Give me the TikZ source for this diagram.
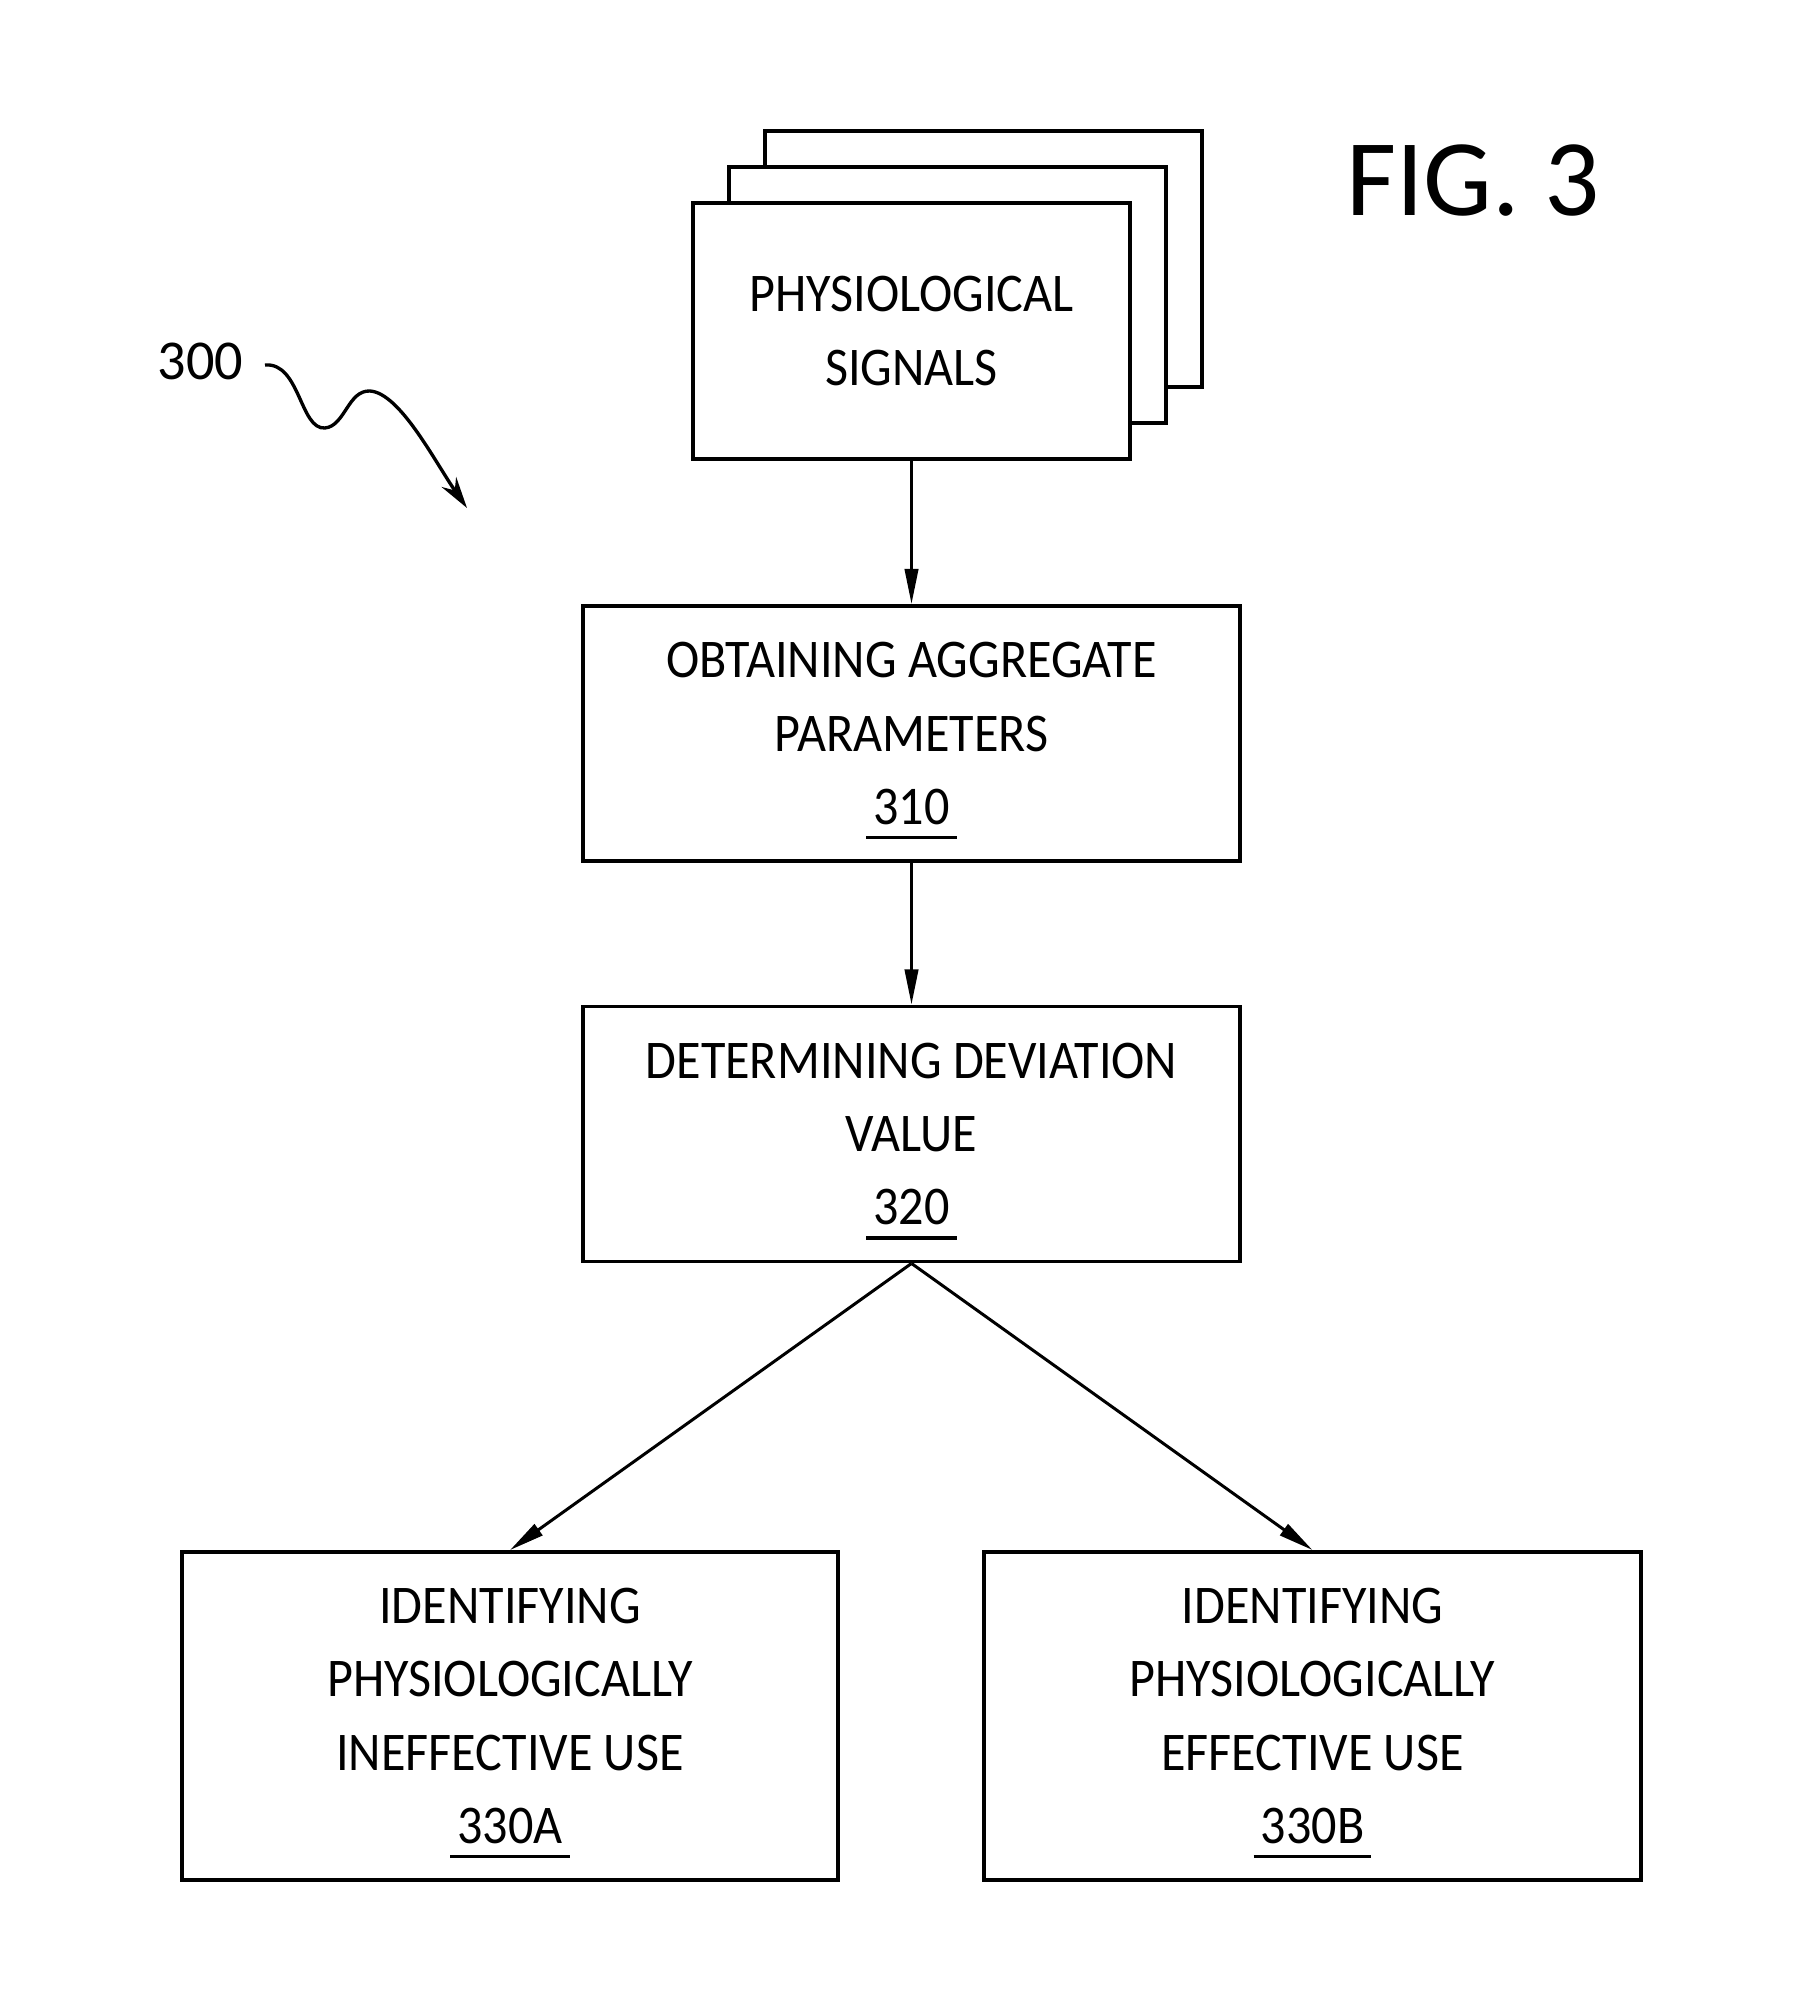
\documentclass[tikz,border=0pt]{standalone}
\usepackage{fontspec}
\setmainfont{Carlito}
\newfontfamily\bodyfont{Carlito}[FakeStretch=0.92]
\usetikzlibrary{arrows.meta}
\tikzset{
  stepbox/.style={draw, line width=1.05pt, fill=white, align=center,
    font=\bodyfont\fontsize{15.5}{20.8}\selectfont, inner sep=0pt},
  flow/.style={line width=0.85pt, -{Triangle[length=10pt,width=3.8pt]}},
}
\newcommand{\refnum}[1]{\setbox0\hbox{\hspace{2pt}#1\hspace{2pt}}\rlap{\smash{\rule[-4.3pt]{\wd0}{0.95pt}}}\box0}
\begin{document}
\begin{tikzpicture}[x=0.01cm,y=-0.01cm]
\useasboundingbox (0,0) rectangle (1819,2000);
% stacked signal boxes
\node[stepbox, minimum width=4.37cm, minimum height=2.56cm] (sigback) at (983.5,259) {};
\node[stepbox, minimum width=4.37cm, minimum height=2.56cm] (sigmid) at (947.5,295) {};
\node[stepbox, minimum width=4.37cm, minimum height=2.56cm] (sig) at (911.5,331) {PHYSIOLOGICAL\\SIGNALS};
% process boxes
\node[stepbox, minimum width=6.57cm, minimum height=2.55cm] (b310) at (911.5,733.5) {OBTAINING AGGREGATE\\PARAMETERS\\\refnum{310}};
\node[stepbox, minimum width=6.57cm, minimum height=2.55cm] (b320) at (911.5,1134) {DETERMINING DEVIATION\\VALUE\\\refnum{320}};
\node[stepbox, minimum width=6.56cm, minimum height=3.28cm] (b330a) at (510,1716) {IDENTIFYING\\PHYSIOLOGICALLY\\INEFFECTIVE USE\\\refnum{330A}};
\node[stepbox, minimum width=6.56cm, minimum height=3.28cm] (b330b) at (1312.5,1716) {IDENTIFYING\\PHYSIOLOGICALLY\\EFFECTIVE USE\\\refnum{330B}};
% connectors
\draw[flow] (sig.south) -- (b310.north);
\draw[flow] (b310.south) -- (b320.north);
\draw[flow] (b320.south) -- (b330a.north);
\draw[flow] (b320.south) -- (b330b.north);
% labels
\node[font=\fontsize{31}{36}\selectfont] (fig) at (1473,181) {FIG. 3};
\node[font=\fontsize{16}{19}\selectfont, anchor=west, inner sep=0pt] (lbl) at (157,361) {300};
\coordinate (sqtip) at (467,508);
\draw[line width=0.95pt, -{Stealth[length=9pt,width=5pt]}] (265,365) .. controls (300,362) and (300,430) .. (325,428)
   .. controls (345,426) and (348,390) .. (370,391)
   .. controls (400,393) and (435,462) .. (sqtip);
\end{tikzpicture}
\end{document}
